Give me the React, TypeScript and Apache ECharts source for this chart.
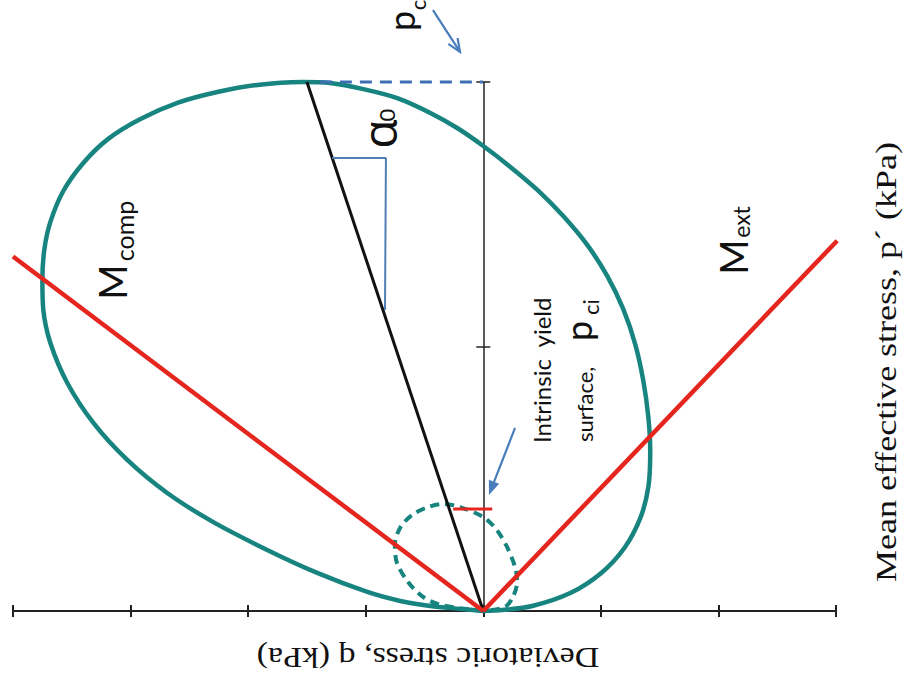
import { useEffect, useRef } from "react";
import * as echarts from "echarts";

// Axis ranges (q: deviatoric stress, p': mean effective stress)
const Q_MIN = -200;
const Q_MAX = 150;
const Q_STEP = 50;
const P_MIN = 0;
const P_MAX = 200;
const P_STEP = 100;

// Outer (rotated) yield surface, [q, p'] pairs
const yieldSurface: [number, number][] = [
  [0, 0], [-9.8, 0.8], [-22.5, 1.9], [-35.3, 3.8], [-49.3, 7.2], [-70.6, 14.4],
  [-91.9, 23.1], [-114.8, 33.6], [-134.4, 44.6], [-151.4, 57.1], [-165.8, 71.1],
  [-176.9, 86.2], [-184.1, 101.3], [-187.1, 113.8], [-187.5, 125.1], [-186.7, 136.5],
  [-184.1, 147.1], [-178.6, 158.8], [-170.1, 169.4], [-159.5, 178.5], [-145.8, 186.0],
  [-130.1, 192.1], [-113.1, 196.2], [-96.1, 198.9], [-77.0, 200.0], [-65.1, 199.6],
  [-51.0, 197.3], [-36.6, 193.9], [-22.5, 188.3], [-11.1, 182.6], [0, 175.8],
  [11.5, 167.9], [23.0, 159.2], [34.0, 149.3], [44.2, 138.4], [52.7, 126.7],
  [59.5, 114.2], [64.6, 100.9], [68.0, 87.3], [70.2, 73.3], [71.0, 60.1],
  [70.2, 46.9], [66.8, 35.2], [60.0, 23.8], [50.2, 14.4], [37.0, 6.8],
  [20.8, 1.9], [8.1, 0.4], [0, 0],
];

// Intrinsic yield surface (dashed), [q, p'] pairs
const intrinsicSurface: [number, number][] = [
  [0, 0], [-18.2, 2.3], [-25.6, 5.3], [-32.0, 11.0], [-36.7, 18.1], [-37.6, 25.0],
  [-35.4, 31.4], [-30.3, 36.3], [-23.5, 39.3], [-17.1, 40.5], [-9.9, 39.3],
  [0, 35.5], [5.8, 30.6], [10.1, 24.2], [13.5, 16.6], [14.4, 11.0], [12.6, 5.3],
  [9.2, 1.5], [0, 0],
];

// Critical state lines and the inclination of the yield surface
const mCompLine: [number, number][] = [[0, 0], [-200, 134]];
const mExtLine: [number, number][] = [[0, 0], [150.5, 140]];
const alphaLine: [number, number][] = [[0, 0], [-75, 200]];
const pcGuide: [number, number][] = [[-69.5, 200], [0, 200]];
const angleMark: [number, number][] = [[-64.3, 171.3], [-41.4, 171.3], [-41.8, 113.8]];
const pciMark: [number, number][] = [[-12.8, 38.6], [3.8, 38.6]];

// Pointer arrows: [from, to] in [q, p']
const pcArrow: [number, number][] = [[-21.4, 227.2], [-9.9, 211.4]];
const pciArrow: [number, number][] = [[13.5, 69.2], [2.4, 43.9]];

const TEAL = "#17847f";
const RED = "#e4261f";
const BLUE = "#4a7dbb";
const AXIS = "#222222";
const SANS = "Lato, 'Open Sans', sans-serif";
const SERIF = "'Liberation Serif', 'Times New Roman', serif";

function lineSeries(data: [number, number][], color: string, width: number, type: any = "solid", smooth: number | boolean = false, z = 2) {
  return {
    type: "line",
    data,
    smooth,
    showSymbol: false,
    symbol: "none",
    clip: false,
    silent: true,
    z,
    lineStyle: { color, width, type, cap: "butt" },
  };
}

function rotText(text: string, x: number, y: number, size: number, opts: any = {}) {
  return {
    type: "text",
    x,
    y,
    rotation: opts.rotation ?? Math.PI / 2,
    scaleX: opts.scaleX ?? 1,
    scaleY: opts.scaleY ?? 1,
    z: 100,
    style: {
      text,
      font: `${opts.weight ?? "normal"} ${size}px ${opts.family ?? SANS}`,
      fill: opts.color ?? "#111",
      textAlign: opts.align ?? "center",
      textVerticalAlign: "middle",
    },
  };
}

function arrowGraphics(from: number[], to: number[], filled: boolean) {
  const dx = to[0] - from[0];
  const dy = to[1] - from[1];
  const len = Math.hypot(dx, dy);
  const ux = dx / len;
  const uy = dy / len;
  const nx = -uy;
  const ny = ux;
  const L = filled ? 14 : 13;
  const W = 11;
  const bx = to[0] - ux * L;
  const by = to[1] - uy * L;
  const p1 = [bx + nx * W / 2, by + ny * W / 2];
  const p2 = [bx - nx * W / 2, by - ny * W / 2];
  const shaftEnd = filled ? [bx, by] : to;
  const items: any[] = [
    {
      type: "line",
      z: 90,
      shape: { x1: from[0], y1: from[1], x2: shaftEnd[0], y2: shaftEnd[1] },
      style: { stroke: BLUE, lineWidth: 2.2 },
    },
  ];
  if (filled) {
    items.push({ type: "polygon", z: 90, shape: { points: [to, p1, p2] }, style: { fill: BLUE } });
  } else {
    items.push({ type: "polyline", z: 90, shape: { points: [p1, to, p2] }, style: { stroke: BLUE, lineWidth: 2.2, fill: null } });
  }
  return items;
}

export default function App() {
  const ref = useRef<HTMLDivElement>(null);

  useEffect(() => {
    if (!ref.current) return;
    const chart = echarts.init(ref.current, undefined, { renderer: "svg" });

    const hiddenAxisBits = {
      axisLabel: { show: false },
      splitLine: { show: false },
    };

    chart.setOption({
      animation: false,
      backgroundColor: "#ffffff",
      grid: { left: 13, right: 79, top: 82, bottom: 83 },
      xAxis: [
        {
          type: "value", position: "bottom", min: Q_MIN, max: Q_MAX, interval: Q_STEP,
          axisLine: { show: true, onZero: false, lineStyle: { color: AXIS, width: 2 } },
          axisTick: { show: true, inside: false, length: 6, lineStyle: { color: AXIS, width: 2 } },
          ...hiddenAxisBits,
        },
        {
          type: "value", position: "bottom", min: Q_MIN, max: Q_MAX, interval: Q_STEP,
          axisLine: { show: false, onZero: false },
          axisTick: { show: true, inside: true, length: 6, lineStyle: { color: AXIS, width: 2 } },
          ...hiddenAxisBits,
        },
      ],
      yAxis: [
        {
          type: "value", position: "left", min: P_MIN, max: P_MAX, interval: P_STEP,
          axisLine: { show: true, onZero: true, onZeroAxisIndex: 0, lineStyle: { color: AXIS, width: 1.5 } },
          axisTick: { show: true, inside: false, length: 7, lineStyle: { color: AXIS, width: 1.5 } },
          ...hiddenAxisBits,
        },
        {
          type: "value", position: "left", min: P_MIN, max: P_MAX, interval: P_STEP,
          axisLine: { show: false, onZero: true, onZeroAxisIndex: 0 },
          axisTick: { show: true, inside: true, length: 7, lineStyle: { color: AXIS, width: 1.5 } },
          ...hiddenAxisBits,
        },
      ],
      series: [
        lineSeries(yieldSurface, TEAL, 4.5, "solid", 0.3, 2),
        lineSeries(intrinsicSurface, TEAL, 4, [9, 6], 0.3, 3),
        lineSeries(alphaLine, "#111111", 3, "solid", false, 4),
        lineSeries(mCompLine, RED, 4.5, "solid", false, 5),
        lineSeries(mExtLine, RED, 4.5, "solid", false, 5),
        lineSeries(pciMark, RED, 3, "solid", false, 6),
        lineSeries(pcGuide, "#3f6fb3", 3, [12, 8], false, 6),
        lineSeries(angleMark, "#4f7fb5", 2, "solid", false, 6),
      ],
    });

    const toPx = (pt: [number, number]) =>
      chart.convertToPixel({ xAxisIndex: 0, yAxisIndex: 0 }, pt) as number[];

    const graphics: any[] = [
      ...arrowGraphics(toPx(pcArrow[0]), toPx(pcArrow[1]), false),
      ...arrowGraphics(toPx(pciArrow[0]), toPx(pciArrow[1]), true),
      // p_c
      rotText("p", 401, 21, 36),
      rotText("c", 417, 5, 22),
      // alpha_0
      rotText("α", 378, 134, 48, { family: "'Open Sans', sans-serif" }),
      rotText("0", 386, 115, 22),
      // M_comp
      rotText("M", 112, 282, 38),
      rotText("comp", 124, 231, 25),
      // M_ext
      rotText("M", 733, 257, 38),
      rotText("ext", 741, 222, 23),
      // intrinsic yield surface label
      rotText("Intrinsic  yield", 541, 443, 24, { align: "left" }),
      rotText("surface,", 584, 442, 22, { align: "left" }),
      rotText("p", 578, 331, 36),
      rotText("ci", 590, 307, 22),
      // axis titles
      rotText("Mean effective stress, p´ (kPa)", 886, 362, 30, { family: SERIF, scaleX: 1.2 }),
      rotText("Deviatoric stress, q (kPa)", 428, 658, 30, { family: SERIF, rotation: Math.PI, scaleX: 1.13 }),
    ];

    chart.setOption({ graphic: { elements: graphics } });

    return () => chart.dispose();
  }, []);

  return (
    <div
      ref={ref}
      style={{ position: "fixed", left: 0, top: 0, width: 915, height: 694, background: "#fff" }}
    />
  );
}
